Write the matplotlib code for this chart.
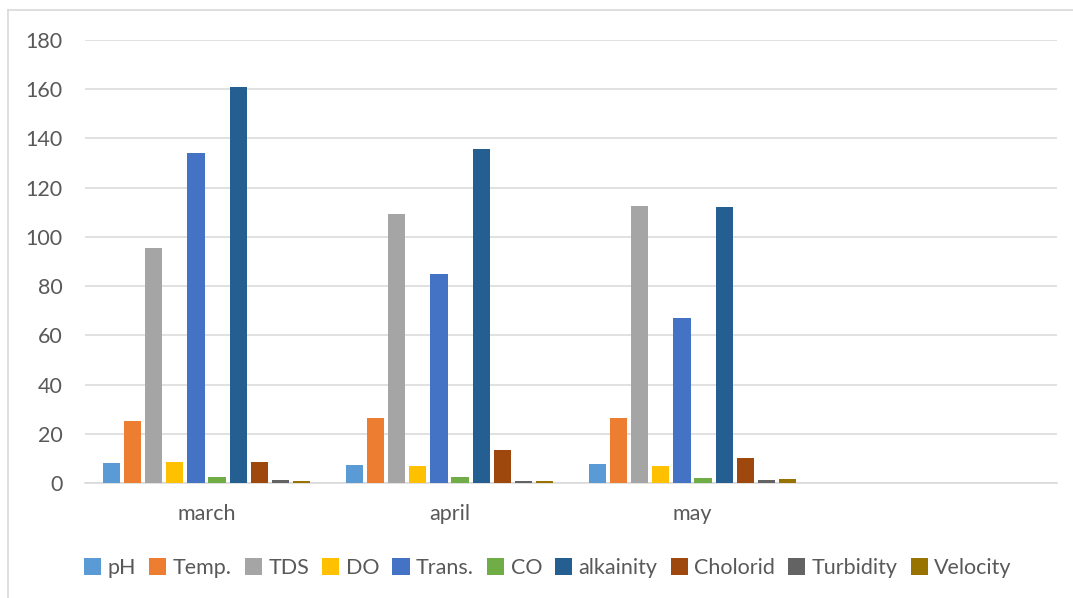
import matplotlib.pyplot as plt
import numpy as np
from matplotlib.lines import Line2D

plt.rcParams['font.family'] = ['Lato', 'DejaVu Sans']

months = ["march", "april", "may", ""]
params = ["pH", "Temp.", "TDS", "DO", "Trans.", "CO", "alkainity",
          "Cholorid", "Turbidity", "Velocity"]
colors = ["#5B9BD5", "#ED7D31", "#A5A5A5", "#FFC000", "#4472C4",
          "#70AD47", "#255E91", "#9E480E", "#636363", "#997300"]

march = [8.1, 25.1, 95.5, 8.4, 134.1, 2.3, 161.0, 8.5, 1.1, 0.7]
april = [7.2, 26.3, 109.5, 6.8, 84.8, 2.3, 135.8, 13.5, 0.8, 0.8]
may = [7.6, 26.4, 112.7, 6.8, 66.9, 2.2, 112.1, 10.0, 1.1, 1.5]
values = np.array([march, april, may])

fig = plt.figure(figsize=(10.73, 5.98), dpi=100)
ax = fig.add_axes([85/1073, 1-483/598, (1057-85)/1073, (483-40)/598])

pitch = 1/11.5
x = np.arange(len(values))
for j, p in enumerate(params):
    ax.bar(x + (j - 4.5)*pitch, values[:, j], width=pitch*0.82,
           color=colors[j], label=p, zorder=3, linewidth=0)

ax.set_xlim(-0.5, 3.5)
ax.set_ylim(0, 180)
ax.set_yticks(range(0, 181, 20))
ax.set_xticks(range(len(months)))
ax.set_xticklabels(months)
ax.grid(axis='y', color='#D9D9D9', linewidth=1.1, zorder=0)
for s in ['top', 'right', 'left']:
    ax.spines[s].set_visible(False)
ax.spines['bottom'].set_color('#D9D9D9')
ax.spines['bottom'].set_linewidth(1.1)
ax.tick_params(axis='both', length=0, labelsize=15.5, colors='#595959')
ax.tick_params(axis='y', pad=16)
ax.tick_params(axis='x', pad=15)

fig.legend(loc='center', bbox_to_anchor=(548/1073, 1-568/598), ncol=10,
           frameon=False, fontsize=15.5, handlelength=0.8, handleheight=0.8,
           handletextpad=0.3, columnspacing=0.6, labelcolor='#595959')

# chart frame
fig.add_artist(Line2D([8/1073, 8/1073], [0, 1-10/598], color='#D9D9D9', lw=1.2))
fig.add_artist(Line2D([8/1073, 1], [1-10/598, 1-10/598], color='#D9D9D9', lw=1.2))

fig.savefig("out.png", dpi=100)
